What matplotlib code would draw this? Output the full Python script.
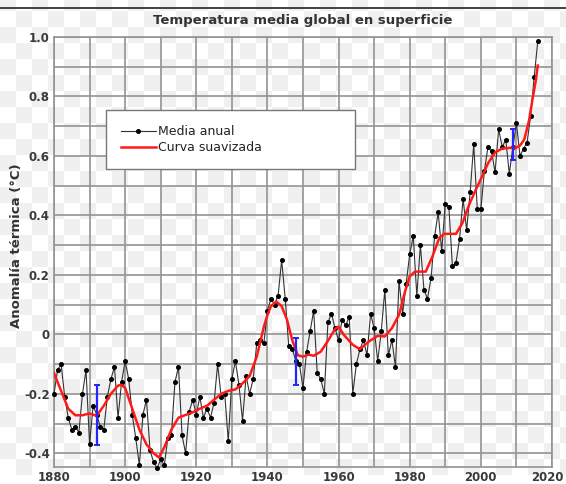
import numpy as np
import matplotlib
matplotlib.use("Agg")
import matplotlib.pyplot as plt
import matplotlib.transforms as mtransforms
from matplotlib.lines import Line2D

# annual mean anomaly (degC)
years = list(range(1880, 2017))
annual = [
    -0.20, -0.12, -0.10, -0.21, -0.28, -0.32, -0.31, -0.33, -0.20, -0.12,
    -0.37, -0.24, -0.27, -0.31, -0.32, -0.21, -0.15, -0.11, -0.28, -0.16,
    -0.09, -0.15, -0.27, -0.35, -0.44, -0.27, -0.22, -0.39, -0.43, -0.45,
    -0.42, -0.44, -0.35, -0.34, -0.16, -0.11, -0.34, -0.40, -0.26, -0.22,
    -0.27, -0.21, -0.28, -0.25, -0.28, -0.23, -0.10, -0.21, -0.20, -0.36,
    -0.15, -0.09, -0.17, -0.29, -0.14, -0.20, -0.15, -0.03, -0.02, -0.03,
    0.08, 0.12, 0.10, 0.13, 0.25, 0.12, -0.04, -0.05, -0.09, -0.10,
    -0.18, -0.06, 0.01, 0.08, -0.13, -0.15, -0.20, 0.04, 0.07, 0.02,
    -0.02, 0.05, 0.03, 0.06, -0.20, -0.10, -0.05, -0.02, -0.07, 0.07,
    0.02, -0.09, 0.01, 0.15, -0.07, -0.02, -0.11, 0.18, 0.07, 0.17,
    0.27, 0.33, 0.13, 0.30, 0.15, 0.12, 0.19, 0.33, 0.41, 0.28,
    0.44, 0.43, 0.23, 0.24, 0.32, 0.455, 0.35, 0.48, 0.64, 0.42,
    0.42, 0.55, 0.63, 0.615, 0.545, 0.69, 0.63, 0.655, 0.54, 0.63,
    0.71, 0.60, 0.625, 0.645, 0.735, 0.866, 0.986,
]

# smoothed curve, read at points along the red line
smooth_years = [1880, 1882, 1884, 1886, 1888, 1890, 1892, 1894, 1896, 1898,
                1899, 1900, 1902, 1904, 1906, 1908, 1909.5, 1911, 1913, 1915,
                1917, 1919, 1921, 1923, 1925, 1927, 1929, 1931, 1933, 1935,
                1937, 1939, 1940, 1941, 1942.5, 1944, 1945.5, 1947, 1948.5, 1950,
                1951.5, 1953, 1955, 1957, 1959, 1960, 1961.5, 1964, 1966, 1968.5,
                1971, 1973, 1975, 1977, 1978.7, 1980, 1981.5, 1984.5, 1986.4, 1988.3,
                1989.7, 1993, 1994.8, 1996.7, 1998.6, 2000.5, 2002, 2004, 2006, 2008,
                2010, 2011, 2012.2, 2013.6, 2014.5, 2015.5, 2016]
smooth_vals = [-0.13, -0.19, -0.25, -0.272, -0.272, -0.266, -0.274, -0.24, -0.20, -0.172,
               -0.17, -0.18, -0.25, -0.32, -0.37, -0.40, -0.414, -0.38, -0.32, -0.28,
               -0.271, -0.262, -0.25, -0.24, -0.22, -0.20, -0.19, -0.185, -0.165, -0.14,
               -0.075, 0.026, 0.065, 0.095, 0.11, 0.095, 0.049, -0.02, -0.07, -0.075,
               -0.068, -0.072, -0.058, -0.022, 0.018, 0.026, -0.002, -0.035, -0.05, -0.024,
               -0.005, -0.007, 0.021, 0.066, 0.145, 0.195, 0.211, 0.211, 0.262, 0.324,
               0.338, 0.338, 0.374, 0.436, 0.487, 0.535, 0.575, 0.612, 0.625, 0.627,
               0.628, 0.635, 0.655, 0.722, 0.79, 0.857, 0.904]

# uncertainty bars
err_years = [1892, 1948, 2009]
err_low = [-0.372, -0.17, 0.588]
err_high = [-0.17, -0.012, 0.689]

y_ticks = [-0.4, -0.2, 0, 0.2, 0.4, 0.6, 0.8, 1.0]
y_labels = ["-0.4", "-0.2", "0", "0.2", "0.4", "0.6", "0.8", "1.0"]
x_ticks = [1880, 1900, 1920, 1940, 1960, 1980, 2000, 2020]

W, H = 566, 484
fig = plt.figure(figsize=(W / 100, H / 100), dpi=100)

# transparency checkerboard behind the chart
cell = 16
yy, xx = np.mgrid[0:H, 0:W]
checker = np.where(((xx // cell) + ((H - 1 - yy - 9) // cell)) % 2 == 0, 1.0, 0.94)
checker[H - 9:, :] = 1.0
fig.figimage(checker, 0, 0, cmap="gray", vmin=0, vmax=1, zorder=-10)
fig.add_artist(Line2D([0, 1], [1 - 8 / H, 1 - 8 / H], transform=fig.transFigure,
                      color="#222222", lw=1.2))

ax = fig.add_axes([54 / W, 17 / H, 498 / W, 430 / H])
ax.patch.set_alpha(0)

grid_c = "#939393"
for x in range(1880, 2021, 10):
    ax.axvline(x, color=grid_c, lw=1.2, zorder=1)
for v in np.arange(-0.4, 1.01, 0.1):
    ax.axhline(v, color=grid_c, lw=1.2, zorder=1)
for s in ax.spines.values():
    s.set_color(grid_c)
    s.set_linewidth(1.2)

ax.plot(years, annual, color="#333333", lw=0.8, marker="o", ms=2.6,
        mfc="black", mec="black", clip_on=False, zorder=3, label="Media anual")
ax.plot(smooth_years, smooth_vals, color="#ff1a1a", lw=1.8, zorder=4,
        label="Curva suavizada")
ax.vlines(err_years, err_low, err_high, color="#2424ff", lw=1.6, zorder=5)
ax.hlines(err_low + err_high, [y - 0.8 for y in err_years * 2],
          [y + 0.8 for y in err_years * 2], color="#2424ff", lw=1.4, zorder=5)

ax.set_xlim(1880, 2020)
ax.set_ylim(-0.446, 1.0)
ax.set_xticks(x_ticks)
ax.set_yticks(y_ticks)
ax.set_yticklabels(y_labels)
ax.tick_params(length=0, labelsize=8.5, labelcolor="#3a3a3a", pad=3)
for lab in ax.get_xticklabels() + ax.get_yticklabels():
    lab.set_fontweight("bold")
# keep the last year label inside the picture
last = ax.get_xticklabels()[-1]
last.set_transform(last.get_transform() +
                   mtransforms.ScaledTranslation(-5 / 100, 0, fig.dpi_scale_trans))

ax.set_title("Temperatura media global en superficie", fontsize=9.5,
             color="#333333", fontweight="bold", pad=9)
ax.set_ylabel("Anomalía térmica (°C)", fontsize=9.5, color="#333333",
              fontweight="bold")
ax.yaxis.set_label_coords(-0.062, 0.514)

leg = ax.legend(loc="upper left", bbox_to_anchor=(0.104, 0.69, 0.50, 0.14),
                mode="expand", frameon=True, fancybox=False, fontsize=9,
                handlelength=2.8, borderpad=1.2, labelspacing=0.25,
                handletextpad=0.2, borderaxespad=0)
leg.get_frame().set_edgecolor("#777777")
leg.get_frame().set_linewidth(1.0)
leg.get_frame().set_facecolor("white")
leg.get_frame().set_alpha(1)
for t in leg.get_texts():
    t.set_color("#222222")

fig.savefig("out.png", dpi=100)
